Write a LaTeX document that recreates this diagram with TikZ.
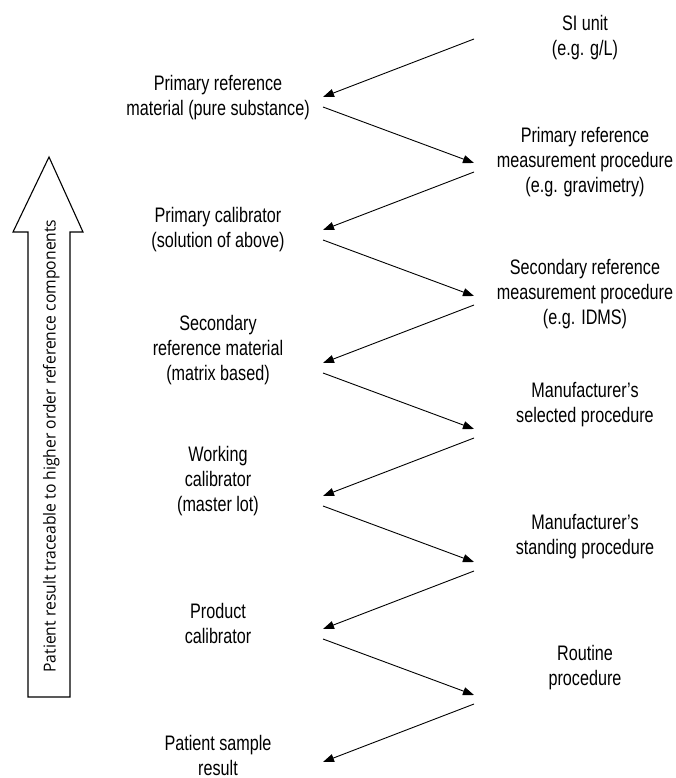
\documentclass[tikz,border=0pt]{standalone}
\usepackage{fontspec}
\setmainfont{Liberation Sans}[FakeStretch=0.77]
\newfontfamily\sidefont{Open Sans}[FakeStretch=0.95]
\usetikzlibrary{arrows.meta}

\begin{document}
\begin{tikzpicture}[x=1pt, y=-1pt,
    stage/.style={align=center, inner sep=0pt, font=\fontsize{21}{25}\selectfont},
    link/.style={-{Triangle[length=11pt, width=8pt]}, line width=0.9pt}
    ]
    \useasboundingbox (0,0) rectangle (675,778);
    % left column
    \node[stage] (prm) at (218,98) {Primary reference\\material (pure substance)};
    \node[stage] (pcal) at (218,230) {Primary calibrator\\(solution of above)};
    \node[stage] (srm) at (218,350) {Secondary\\reference material\\(matrix based)};
    \node[stage] (wcal) at (218,481) {Working\\calibrator\\(master lot)};
    \node[stage] (prodcal) at (218,623) {Product\\calibrator};
    \node[stage] (result) at (218,755) {Patient sample\\result};
    % right column
    \node[stage] (si) at (585,38) {SI unit\\(e.g. g/L)};
    \node[stage] (prmp) at (585,162) {Primary reference\\measurement procedure\\(e.g. gravimetry)};
    \node[stage] (srmp) at (585,294) {Secondary reference\\measurement procedure\\(e.g. IDMS)};
    \node[stage] (msp) at (585,405) {Manufacturer's\\selected procedure};
    \node[stage] (mstp) at (585,537) {Manufacturer's\\standing procedure};
    \node[stage] (rp) at (585,668) {Routine\\procedure};
    % arrow ends
    \coordinate (rs0) at (474,39);
    \foreach \k in {0,...,5} {
      \coordinate (lt\k) at (323,{97+133*\k});
      \coordinate (ls\k) at (323,{107+133*\k});
      \coordinate (rt\k) at (474,{163+133*\k});
      \coordinate (rs\the\numexpr\k+1\relax) at (474,{172+133*\k});
    }
    \foreach \k in {0,...,5}
      \draw[link] (rs\k) -- (lt\k);
    \foreach \k in {0,...,4}
      \draw[link] (ls\k) -- (rt\k);
    % traceability arrow
    \draw[line width=1.1pt] (28,697) -- (28,232) -- (13,232) -- (49,157)
      -- (83,232) -- (70,232) -- (70,697) -- cycle;
    \node[rotate=90, anchor=base, inner sep=0pt, font=\sidefont\fontsize{16.5}{19}\selectfont]
      (trace) at (55.5,446) {Patient result traceable to higher order reference components};
\end{tikzpicture}
\end{document}
